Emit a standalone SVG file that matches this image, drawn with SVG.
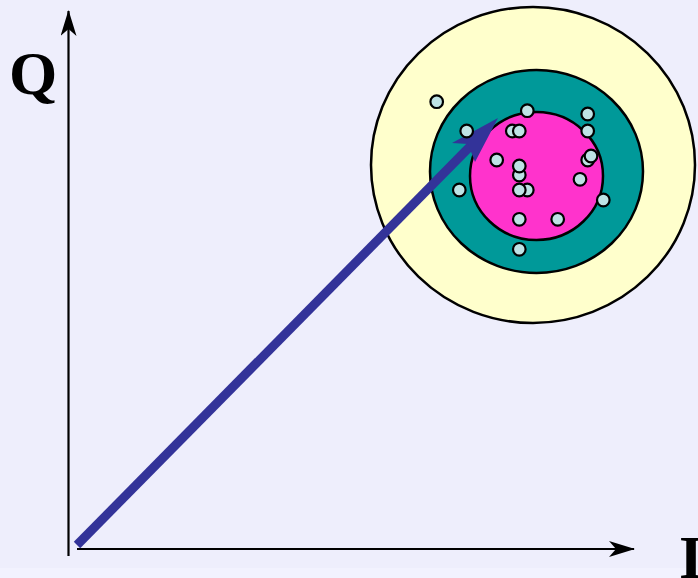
<svg xmlns="http://www.w3.org/2000/svg" width="698" height="578" viewBox="0 0 698 578">
<style>
.axis{stroke:#000;stroke-width:2.2;fill:none}
.ring{stroke:#000;stroke-width:2.5}
.dot{fill:#BEE3E5;stroke:#000;stroke-width:2.2}
.lbl{font-family:"Liberation Serif","Times New Roman",serif;font-weight:bold;font-size:62px;fill:#000}
</style>
<defs>
<marker id="ah" viewBox="0 0 26 16" refX="25" refY="8" markerWidth="26" markerHeight="16" markerUnits="userSpaceOnUse" orient="auto">
<path d="M0,0 L26,8 L0,16 L7,8 Z" fill="#000"/>
</marker>
</defs>
<rect width="698" height="578" fill="#EEEEFC"/>
<rect y="568" width="698" height="10" fill="#F2F2FE"/>
<g id="target">
<ellipse class="ring" cx="533" cy="165" rx="162" ry="158" fill="#FFFFCC"/>
<ellipse class="ring" cx="536.5" cy="171.5" rx="106.5" ry="101.5" fill="#009999"/>
<ellipse class="ring" cx="536.5" cy="176" rx="66.5" ry="64" fill="#FF33CC"/>
</g>
<g id="connectors">
<line class="axis" x1="68.5" y1="556" x2="68.5" y2="11" marker-end="url(#ah)"/>
<line class="axis" x1="77" y1="549" x2="634" y2="549" marker-end="url(#ah)"/>
<line x1="77" y1="545" x2="472" y2="144.5" stroke="#333399" stroke-width="9"/>
<polygon points="498,118 452,143 468,144 475,162" fill="#333399"/>
</g>
<g id="dots">
<circle class="dot" cx="436.7" cy="101.7" r="6.3"/>
<circle class="dot" cx="466.7" cy="131" r="6.3"/>
<circle class="dot" cx="527.3" cy="110.7" r="6.3"/>
<circle class="dot" cx="512.3" cy="131" r="6.3"/>
<circle class="dot" cx="519.3" cy="131" r="6.3"/>
<circle class="dot" cx="587.7" cy="114" r="6.3"/>
<circle class="dot" cx="587.7" cy="131" r="6.3"/>
<circle class="dot" cx="496.7" cy="160" r="6.3"/>
<circle class="dot" cx="519.3" cy="175" r="6.3"/>
<circle class="dot" cx="519.3" cy="166" r="6.3"/>
<circle class="dot" cx="587.7" cy="160" r="6.3"/>
<circle class="dot" cx="591" cy="156" r="6.3"/>
<circle class="dot" cx="580" cy="179.3" r="6.3"/>
<circle class="dot" cx="459.3" cy="190" r="6.3"/>
<circle class="dot" cx="527.3" cy="190" r="6.3"/>
<circle class="dot" cx="519.3" cy="190" r="6.3"/>
<circle class="dot" cx="603.3" cy="200" r="6.3"/>
<circle class="dot" cx="519.3" cy="219.3" r="6.3"/>
<circle class="dot" cx="557.7" cy="219.3" r="6.3"/>
<circle class="dot" cx="519.3" cy="249.3" r="6.3"/>
</g>
<g id="labels">
<text class="lbl" x="9" y="94">Q</text>
<text class="lbl" x="679" y="578">I</text>
</g>
</svg>
